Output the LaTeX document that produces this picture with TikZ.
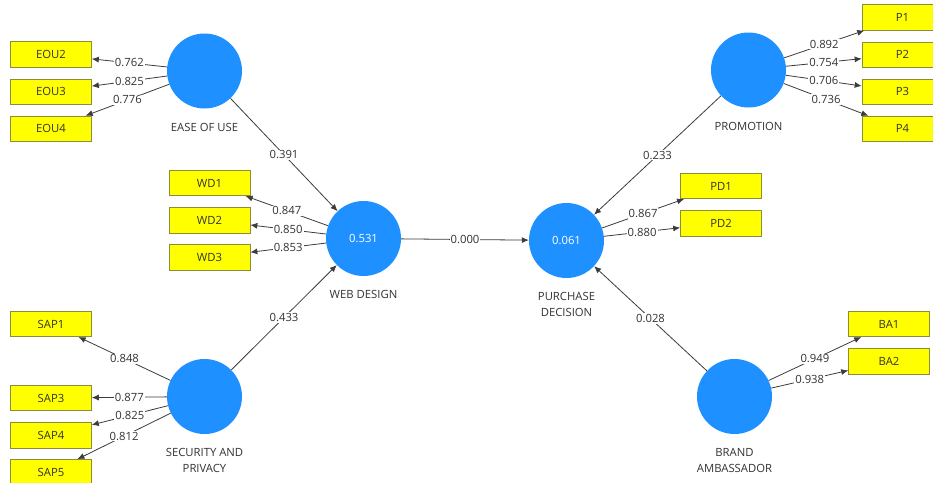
\documentclass[tikz,border=0pt]{standalone}
\usepackage{fontspec}
\setmainfont{Open Sans}
\usepackage{tikz}
\usetikzlibrary{positioning,arrows.meta}
\definecolor{lvblue}{HTML}{1E90FF}
\definecolor{mvyellow}{HTML}{FFFF00}
\definecolor{mvborder}{HTML}{8C8C3C}
\definecolor{edgegray}{HTML}{3C3C3C}
\definecolor{txtgray}{HTML}{333333}

\begin{document}
\begin{tikzpicture}[x=1pt, y=-1pt,
  latent/.style={circle, fill=lvblue, minimum size=75pt, inner sep=0pt,
                 text=white, font=\fontsize{11.3}{13}\selectfont},
  lvname/.style={align=center, inner sep=2pt, text=txtgray,
                 font=\fontsize{11.3}{16}\selectfont},
  indicator/.style={fill=mvyellow, draw=mvborder, line width=0.6pt,
                    minimum width=81pt, minimum height=25.5pt, inner sep=0pt,
                    text=txtgray, font=\fontsize{11.3}{13}\selectfont},
  loading/.style={-{Latex[length=7pt,width=6pt]}, line width=0.8pt, color=edgegray},
  val/.style={fill=white, inner sep=1pt, text=txtgray,
              font=\fontsize{11.3}{13}\selectfont}
]
\useasboundingbox[fill=white] (0,0) rectangle (933,482);

\node[latent] (eou) at (204.5,71) {};
\node[latent] (wd) at (363.5,238.5) {0.531};
\node[latent] (sap) at (204.5,396.5) {};
\node[latent] (pd) at (566.5,240.5) {0.061};
\node[latent] (prom) at (748.5,70) {};
\node[latent] (ba) at (734.5,396.5) {};

\node[lvname, below=12pt of eou] {EASE OF USE};
\node[lvname, below=12pt of wd] {WEB DESIGN};
\node[lvname, below=12pt of sap] {SECURITY AND\\PRIVACY};
\node[lvname, below=12pt of pd] {PURCHASE\\DECISION};
\node[lvname, below=12pt of prom] {PROMOTION};
\node[lvname, below=12pt of ba] {BRAND\\AMBASSADOR};

\node[indicator] (eou2) at (51,54.5) {EOU2};
\node[indicator, below=11pt of eou2] (eou3) {EOU3};
\node[indicator, below=11pt of eou3] (eou4) {EOU4};
\node[indicator] (wd1) at (209.5,183) {WD1};
\node[indicator, below=11pt of wd1] (wd2) {WD2};
\node[indicator, below=11pt of wd2] (wd3) {WD3};
\node[indicator] (sap1) at (51,324) {SAP1};
\node[indicator] (sap3) at (51,398) {SAP3};
\node[indicator, below=11pt of sap3] (sap4) {SAP4};
\node[indicator, below=11pt of sap4] (sap5) {SAP5};
\node[indicator] (pd1) at (721,186) {PD1};
\node[indicator, below=11pt of pd1] (pd2) {PD2};
\node[indicator] (p1) at (902.5,17.5) {P1};
\node[indicator, below=11pt of p1] (p2) {P2};
\node[indicator, below=11pt of p2] (p3) {P3};
\node[indicator, below=11pt of p3] (p4) {P4};
\node[indicator] (ba1) at (889,324) {BA1};
\node[indicator, below=11pt of ba1] (ba2) {BA2};

\draw[loading] (eou) -- node[val] {0.762} (eou2);
\draw[loading] (eou) -- node[val] {0.825} (eou3);
\draw[loading] (eou) -- node[val] {0.776} (eou4);
\draw[loading] (wd) -- node[val] {0.847} (wd1);
\draw[loading] (wd) -- node[val] {0.850} (wd2);
\draw[loading] (wd) -- node[val] {0.853} (wd3);
\draw[loading] (sap) -- node[val] {0.848} (sap1);
\draw[loading] (sap) -- node[val] {0.877} (sap3);
\draw[loading] (sap) -- node[val] {0.825} (sap4);
\draw[loading] (sap) -- node[val] {0.812} (sap5);
\draw[loading] (pd) -- node[val] {0.867} (pd1);
\draw[loading] (pd) -- node[val] {0.880} (pd2);
\draw[loading] (prom) -- node[val] {0.892} (p1);
\draw[loading] (prom) -- node[val] {0.754} (p2);
\draw[loading] (prom) -- node[val] {0.706} (p3);
\draw[loading] (prom) -- node[val] {0.736} (p4);
\draw[loading] (ba) -- node[val] {0.949} (ba1);
\draw[loading] (ba) -- node[val] {0.938} (ba2);

\draw[loading] (eou) -- node[val] {0.391} (wd);
\draw[loading] (sap) -- node[val] {0.433} (wd);
\draw[loading] (wd) -- node[val] {0.000} (pd);
\draw[loading] (prom) -- node[val] {0.233} (pd);
\draw[loading] (ba) -- node[val] {0.028} (pd);

\end{tikzpicture}
\end{document}
